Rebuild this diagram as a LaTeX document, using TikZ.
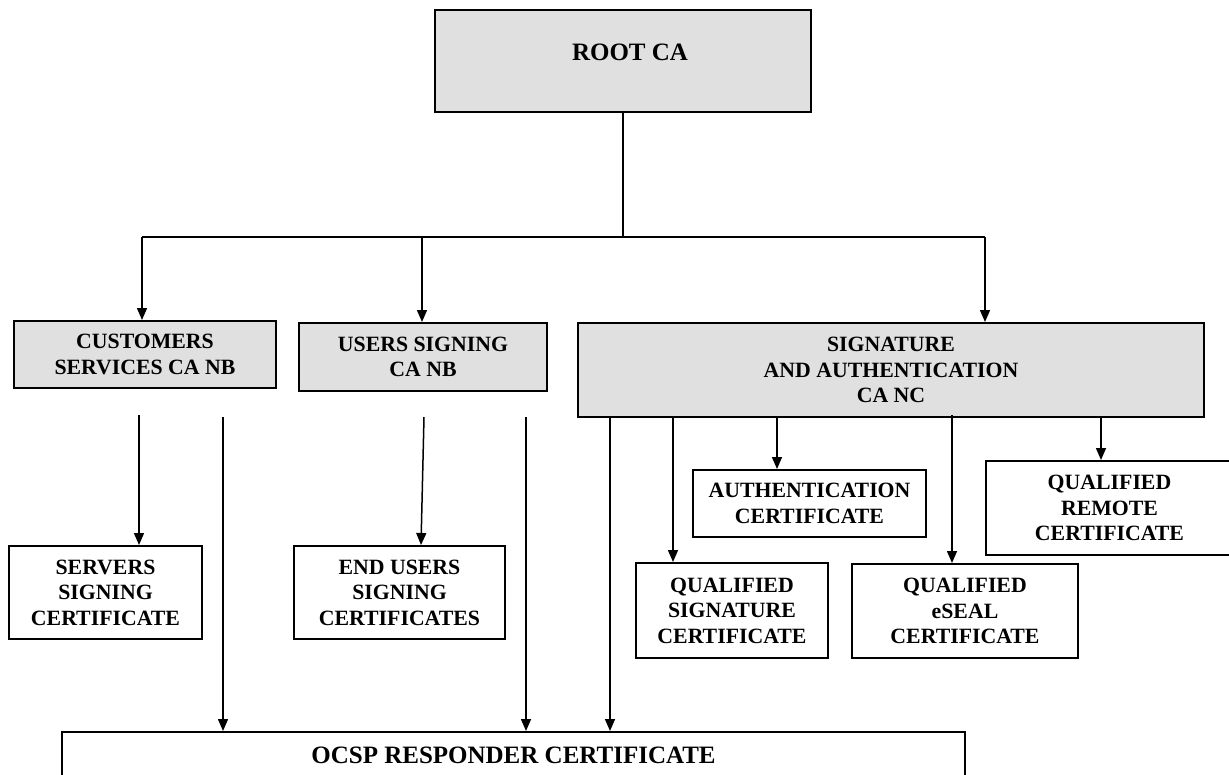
\documentclass[tikz,border=0pt]{standalone}
\usepackage{fontspec}
\setmainfont{Liberation Serif}
\usetikzlibrary{arrows.meta,calc}
\definecolor{boxgray}{RGB}{224,224,224}
\tikzset{
  box/.style={draw=black, line width=2pt, rectangle, inner sep=0pt, align=center,
    font=\fontsize{21.8}{25.5}\selectfont\bfseries},
  gbox/.style={box, fill=boxgray},
  wbox/.style={box, fill=white},
  txt/.style={inner sep=0pt, align=center, font=\fontsize{21.8}{25.5}\selectfont\bfseries},
  bigtxt/.style={font=\fontsize{25}{28}\selectfont\bfseries},
  conn/.style={line width=1.5pt, -{Triangle[width=10pt,length=12pt]}},
  plain/.style={line width=1.5pt},
}
\begin{document}
\begin{tikzpicture}[x=1pt,y=-1pt]
\useasboundingbox (0,0) rectangle (1229,774);
\clip (0,0) rectangle (1229,774);
\fill[white] (0,0) rectangle (1229,774);

% boxes
\node[gbox, minimum width=376pt, minimum height=102pt] (root) at (623,61) {};
\node[txt, bigtxt] (roottxt) at (630,52) {ROOT CA};
\node[gbox, minimum width=262pt, minimum height=67pt] (cust) at (145,354.5) {CUSTOMERS\\SERVICES CA NB};
\node[gbox, minimum width=248pt, minimum height=68pt] (users) at (423,357) {USERS SIGNING\\CA NB};
\node[gbox, minimum width=626pt, minimum height=94pt] (sig) at (891,370) {SIGNATURE\\AND AUTHENTICATION\\CA NC};
\node[wbox, minimum width=193pt, minimum height=93pt] (servers) at (105.5,592.5) {SERVERS\\SIGNING\\CERTIFICATE};
\node[wbox, minimum width=211pt, minimum height=93pt] (endusers) at (399.5,592.5) {END USERS\\SIGNING\\CERTIFICATES};
\node[wbox, minimum width=233pt, minimum height=67pt] (auth) at (809.5,503.5) {AUTHENTICATION\\CERTIFICATE};
\node[wbox, minimum width=247pt, minimum height=94pt] (remote) at (1109.5,508) {QUALIFIED\\REMOTE\\CERTIFICATE};
\node[wbox, minimum width=192pt, minimum height=95pt] (qsig) at (732,610.5) {QUALIFIED\\SIGNATURE\\CERTIFICATE};
\node[wbox, minimum width=226pt, minimum height=94pt] (eseal) at (965,611) {QUALIFIED\\eSEAL\\CERTIFICATE};
\node[wbox, bigtxt, minimum width=903pt, minimum height=46pt] (ocsp) at (513.5,755) {OCSP RESPONDER CERTIFICATE};

% bus from root
\coordinate (busM) at (623,237);
\coordinate (busL) at (142,237);
\coordinate (busU) at (422,237);
\coordinate (busR) at (985,237);
\draw[plain] (root.south) -- (busM);
\draw[plain] (busL) -- (busR);
\draw[conn] (busL) -- (busL |- cust.north);
\draw[conn] (busU) -- (busU |- users.north);
\draw[conn] (busR) -- (busR |- sig.north);

% from customers CA
\coordinate (c1) at (139,415);
\coordinate (c2) at (223,417);
\draw[conn] (c1) -- (c1 |- servers.north);
\draw[conn] (c2) -- (c2 |- ocsp.north);

% from users CA
\coordinate (u1) at (424,417);
\coordinate (u2) at (526,417);
\draw[conn] (u1) -- ($(u1 |- endusers.north)+(-3,0)$);
\draw[conn] (u2) -- (u2 |- ocsp.north);

% from signature CA
\coordinate (s1) at (610,417);
\coordinate (s2) at (673,417);
\coordinate (s3) at (777,417);
\coordinate (s4) at (952,415);
\coordinate (s5) at (1101,417);
\draw[conn] (s1) -- (s1 |- ocsp.north);
\draw[conn] (s2) -- (s2 |- qsig.north);
\draw[conn] (s3) -- (s3 |- auth.north);
\draw[conn] (s4) -- (s4 |- eseal.north);
\draw[conn] (s5) -- (s5 |- remote.north);
\end{tikzpicture}
\end{document}
